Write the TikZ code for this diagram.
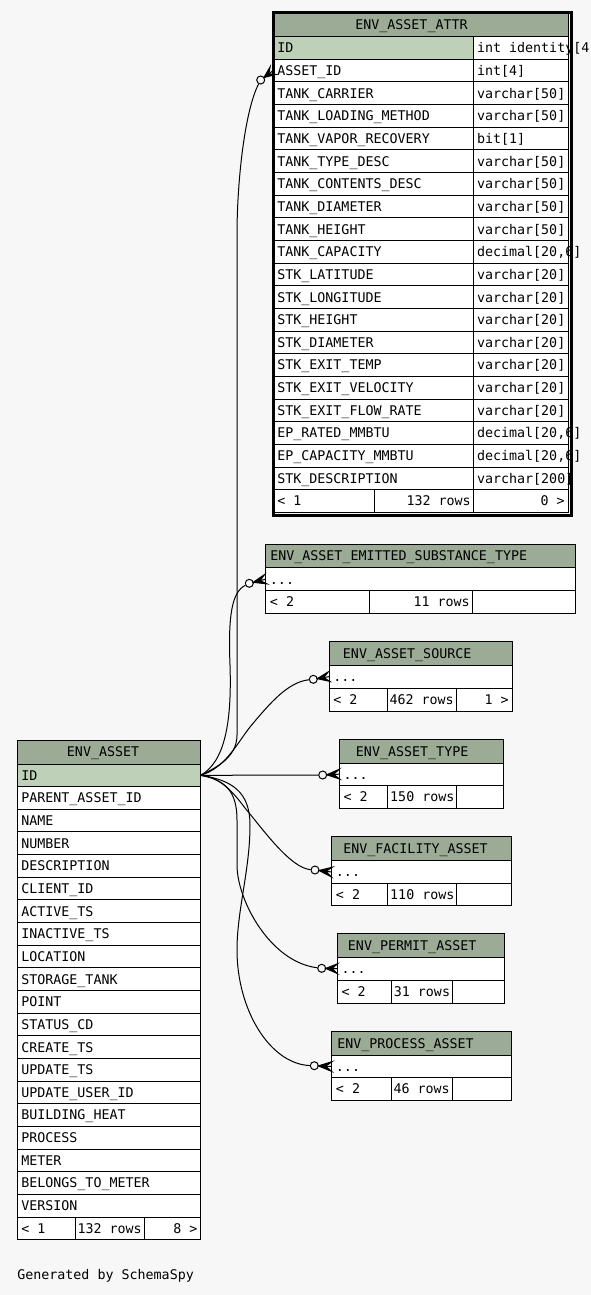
\documentclass[tikz,border=0pt]{standalone}
\usepackage{fontspec}
\newfontfamily\schemafont{DejaVu Sans Mono}
\usetikzlibrary{calc}
\definecolor{canvas}{HTML}{F7F7F7}
\definecolor{headbg}{HTML}{9BAB96}
\definecolor{pkbg}{HTML}{BED1B8}

% crow's foot between an odot circle (#1) and the column edge (#2)
\newcommand\crowfoot[2]{%
  \coordinate (cq) at ($(#1)!3pt!(#2)$);
  \coordinate (cm) at ($(cq)!0.55!(#2)$);
  \filldraw[link, line join=miter] (cq) -- ($(#2)!3.6pt!90:(cq)$) -- (cm) -- ($(#2)!3.6pt!-90:(cq)$) -- cycle;
  \draw[link] (cm) -- (#2);
}

\begin{document}
\begin{tikzpicture}[x=0.75pt, y=-0.75pt,
  cellbox/.style={draw, line width=0.75pt, rectangle, inner sep=0pt, outer sep=0pt, anchor=north west, fill=white},
  cellsize/.style 2 args={minimum width={(#1)*0.75pt}, minimum height={(#2)*0.75pt}},
  lbl/.style={inner sep=0pt, font=\schemafont\fontsize{10}{12}\selectfont, text height=7.3pt, text depth=0pt, anchor=west},
  link/.style={line width=0.75pt},
  odot/.style={circle, draw, line width=0.75pt, fill=canvas, inner sep=0pt, minimum size=6pt},
]
\useasboundingbox (0,0) rectangle (591,1295);
\fill[canvas] (0,0) rectangle (591,1295);

% ---------------- ENV_ASSET_ATTR ----------------
\node[cellbox, fill=headbg, cellsize={295}{25.2}] (attr-h) at (273,11.5) {};
\node[lbl] (attr-hl) at (355,25) {ENV\_ASSET\_ATTR};
\node[cellbox, fill=pkbg, cellsize={200}{22.65}] (attr-k0) at (273,36.7) {};
\node[cellbox, cellsize={95}{22.65}] (attr-t0) at (473,36.7) {};
\node[lbl] (attr-kl0) at ([xshift=3pt]attr-k0.west) {ID};
\node[lbl] (attr-tl0) at ([xshift=2.8pt]attr-t0.west) {int identity[4]};
\foreach \cname/\ctype [count=\i from 1] in {
  ASSET\_ID/int[4], TANK\_CARRIER/varchar[50], TANK\_LOADING\_METHOD/varchar[50],
  TANK\_VAPOR\_RECOVERY/bit[1], TANK\_TYPE\_DESC/varchar[50], TANK\_CONTENTS\_DESC/varchar[50],
  TANK\_DIAMETER/varchar[50], TANK\_HEIGHT/varchar[50], TANK\_CAPACITY/{decimal[20,6]},
  STK\_LATITUDE/varchar[20], STK\_LONGITUDE/varchar[20], STK\_HEIGHT/varchar[20],
  STK\_DIAMETER/varchar[20], STK\_EXIT\_TEMP/varchar[20], STK\_EXIT\_VELOCITY/varchar[20],
  STK\_EXIT\_FLOW\_RATE/varchar[20], EP\_RATED\_MMBTU/{decimal[20,6]},
  EP\_CAPACITY\_MMBTU/{decimal[20,6]}, STK\_DESCRIPTION/varchar[200]}{
  \node[cellbox, cellsize={200}{22.65}] (attr-k\i) at (273,{36.7+\i*22.65}) {};
  \node[cellbox, cellsize={95}{22.65}] (attr-t\i) at (473,{36.7+\i*22.65}) {};
  \node[lbl] (attr-kl\i) at ([xshift=3pt]attr-k\i.west) {\cname};
  \node[lbl] (attr-tl\i) at ([xshift=2.8pt]attr-t\i.west) {\ctype};
}
\node[cellbox, cellsize={101}{22.65}] (attr-f1) at (273,489.7) {};
\node[cellbox, cellsize={99}{22.65}] (attr-f2) at (374,489.7) {};
\node[cellbox, cellsize={95}{22.65}] (attr-f3) at (473,489.7) {};
\node[lbl] (attr-fl1) at ([xshift=3pt]attr-f1.west) {< 1};
\node[lbl, anchor=east] (attr-fl2) at ([xshift=-1.5pt]attr-f2.east) {132 rows};
\node[lbl, anchor=east] (attr-fl3) at ([xshift=-2.25pt]attr-f3.east) {0 >};
\node[draw, line width=2.25pt, rectangle, inner sep=0pt, anchor=north west,
      cellsize={298}{502}] (attr-frame) at (271.5,11.5) {};

% ---------------- ENV_ASSET ----------------
\node[cellbox, fill=headbg, cellsize={183.7}{24}] (asset-h) at (17,740) {};
\node[lbl] (asset-hl) at (66.7,752) {ENV\_ASSET};
\node[cellbox, fill=pkbg, cellsize={183.7}{22.65}] (asset-k0) at (17,764) {};
\node[lbl] (asset-kl0) at ([xshift=3pt]asset-k0.west) {ID};
\foreach \cname [count=\i from 1] in {
  PARENT\_ASSET\_ID, NAME, NUMBER, DESCRIPTION, CLIENT\_ID, ACTIVE\_TS, INACTIVE\_TS,
  LOCATION, STORAGE\_TANK, POINT, STATUS\_CD, CREATE\_TS, UPDATE\_TS, UPDATE\_USER\_ID,
  BUILDING\_HEAT, PROCESS, METER, BELONGS\_TO\_METER, VERSION}{
  \node[cellbox, cellsize={183.7}{22.65}] (asset-k\i) at (17,{764+\i*22.65}) {};
  \node[lbl] (asset-kl\i) at ([xshift=3pt]asset-k\i.west) {\cname};
}
\node[cellbox, cellsize={58.7}{22.65}] (asset-f1) at (17,1217) {};
\node[cellbox, cellsize={68.3}{22.65}] (asset-f2) at (75.7,1217) {};
\node[cellbox, cellsize={56.7}{22.65}] (asset-f3) at (144,1217) {};
\node[lbl] (asset-fl1) at ([xshift=3pt]asset-f1.west) {< 1};
\node[lbl, anchor=east] (asset-fl2) at ([xshift=-1.5pt]asset-f2.east) {132 rows};
\node[lbl, anchor=east] (asset-fl3) at ([xshift=-2.25pt]asset-f3.east) {8 >};

% ---------------- collapsed child tables ----------------
\foreach \nm/\xl/\xr/\yt/\yh/\yr/\yb/\da/\db/\hx/\ttl/\nrows/\rt in {
  emit/265.7/575/544/567.7/590.7/613.3/369/472/270/ENV\_ASSET\_EMITTED\_SUBSTANCE\_TYPE/11 rows/{},
  source/329/512/641.7/665/688.3/711/387.3/456/342.7/ENV\_ASSET\_SOURCE/462 rows/1 >,
  type/339.3/503.3/739.3/763.3/785/808/387.7/456.7/355.7/ENV\_ASSET\_TYPE/150 rows/{},
  facility/331.7/511.7/836.7/860.7/883.3/905.7/387.7/456.7/343/ENV\_FACILITY\_ASSET/110 rows/{},
  permit/337.3/504.3/933.3/957.3/980/1003.3/391.7/452.3/347.7/ENV\_PERMIT\_ASSET/31 rows/{},
  process/331.7/511.7/1031.7/1055.7/1077.3/1100/391.7/452/337/ENV\_PROCESS\_ASSET/46 rows/{}}{
  \node[cellbox, fill=headbg, cellsize={\xr-\xl}{\yh-\yt}] (\nm-h) at (\xl,\yt) {};
  \node[cellbox, cellsize={\xr-\xl}{\yr-\yh}] (\nm-r) at (\xl,\yh) {};
  \node[cellbox, cellsize={\da-\xl}{\yb-\yr}] (\nm-f1) at (\xl,\yr) {};
  \node[cellbox, cellsize={\db-\da}{\yb-\yr}] (\nm-f2) at (\da,\yr) {};
  \node[cellbox, cellsize={\xr-\db}{\yb-\yr}] (\nm-f3) at (\db,\yr) {};
  \node[lbl] (\nm-hl) at (\hx,{(\yt+\yh)/2}) {\ttl};
  \node[lbl] (\nm-rl) at ([xshift=3pt]\nm-r.west) {...};
  \node[lbl] (\nm-fl1) at ([xshift=3pt]\nm-f1.west) {< 2};
  \node[lbl, anchor=east] (\nm-fl2) at ([xshift=-1.5pt]\nm-f2.east) {\nrows};
  \node[lbl, anchor=east] (\nm-fl3) at ([xshift=-2.25pt]\nm-f3.east) {\rt};
}

% ---------------- relationships ----------------
\node[odot] (attr-o) at (260.7,80) {};
\node[odot] (emit-o) at (249.3,583.3) {};
\node[odot] (source-o) at (313.3,679.3) {};
\node[odot] (type-o) at (322.7,775) {};
\node[odot] (facility-o) at (315,870) {};
\node[odot] (permit-o) at (321.7,968.3) {};
\node[odot] (process-o) at (314.3,1065.7) {};

\draw[link] (asset-k0.east) .. controls (215,768) and (237,758) .. (237,735)
  -- (237,235) .. controls (237,180) and (245,110) .. (attr-o);
\draw[link] (asset-k0.east) .. controls (224,762) and (232,725) .. (230,665)
  .. controls (228,615) and (232,592) .. (emit-o);
\draw[link] (asset-k0.east) .. controls (225,768) and (236,745) .. (250,727)
  .. controls (270,703) and (288,682) .. (source-o);
\draw[link] (asset-k0.east) -- (type-o);
\draw[link] (asset-k0.east) .. controls (220,777) and (233,792) .. (245,808)
  .. controls (262,828) and (290,868) .. (facility-o);
\draw[link] (asset-k0.east) .. controls (226,780) and (237,792) .. (237,820)
  -- (237,865) .. controls (237,900) and (270,962) .. (permit-o);
\draw[link] (asset-k0.east) .. controls (232,780) and (250,792) .. (250,825)
  .. controls (250,870) and (237,910) .. (237,950)
  .. controls (237,1010) and (270,1064) .. (process-o);

\crowfoot{attr-o}{attr-k1.west}
\crowfoot{emit-o}{emit-r.west}
\crowfoot{source-o}{source-r.west}
\crowfoot{type-o}{type-r.west}
\crowfoot{facility-o}{facility-r.west}
\crowfoot{permit-o}{permit-r.west}
\crowfoot{process-o}{process-r.west}

\node[lbl] (credit) at (17,1275) {Generated by SchemaSpy};
\end{tikzpicture}
\end{document}
